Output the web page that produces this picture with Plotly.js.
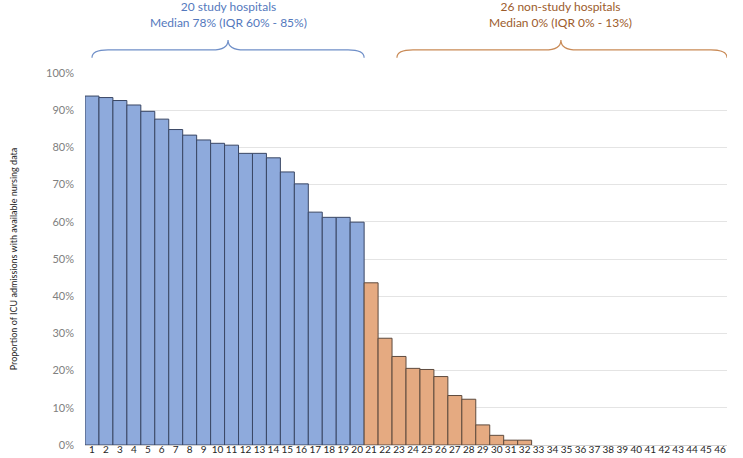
<!DOCTYPE html>
<html>
<head>
<meta charset="utf-8">
<script src="https://cdn.plot.ly/plotly-3.0.1.min.js"></script>
<style>
  html, body { margin: 0; padding: 0; background: #ffffff; }
  #chart { width: 743px; height: 458px; }
</style>
</head>
<body>
<div id="chart"></div>
<script>
// Hospital ranks (x categories)
const hospitals = [1,2,3,4,5,6,7,8,9,10,11,12,13,14,15,16,17,18,19,20,21,22,23,24,25,26,27,28,29,30,31,32,33,34,35,36,37,38,39,40,41,42,43,44,45,46];
// Proportion (%) of ICU admissions with available nursing data
const studyValues = [93.8, 93.4, 92.6, 91.4, 89.7, 87.6, 84.8, 83.3, 82.0, 81.1, 80.6, 78.4, 78.4, 77.2, 73.4, 70.2, 62.6, 61.2, 61.2, 59.9];
const nonStudyValues = [43.6, 28.7, 23.8, 20.6, 20.3, 18.4, 13.3, 12.3, 5.4, 2.6, 1.3, 1.3, 0, 0, 0, 0, 0, 0, 0, 0, 0, 0, 0, 0, 0, 0];
const yTicks = [0, 10, 20, 30, 40, 50, 60, 70, 80, 90, 100];
const yTickText = ['0%', '10%', '20%', '30%', '40%', '50%', '60%', '70%', '80%', '90%', '100%'];
const studyLabel = ['20 study hospitals', 'Median 78% (IQR 60% - 85%)'];
const nonStudyLabel = ['26 non-study hospitals', 'Median 0% (IQR 0% - 13%)'];
const yTitle = 'Proportion of ICU admissions with available nursing data';

const FONT = 'Lato, "Open Sans", sans-serif';
const blueText = '#5479bd';
const brownText = '#9c5c2c';

const studyX = hospitals.slice(0, studyValues.length);
const nonStudyX = hospitals.slice(studyValues.length);
const outline = vals => vals.map(v => (v > 0 ? 1 : 0));

const traces = [
  {
    type: 'bar', x: studyX, y: studyValues, name: 'Study',
    marker: { color: '#8eaadc', line: { color: '#3a4764', width: outline(studyValues) } },
    hoverinfo: 'x+y'
  },
  {
    type: 'bar', x: nonStudyX, y: nonStudyValues, name: 'Non-study',
    marker: { color: '#e5aa81', line: { color: '#5e4b3e', width: outline(nonStudyValues) } },
    hoverinfo: 'x+y'
  }
];

function brace(x0, xm, x1, color) {
  // x in data units, y in paper units
  const yb = 1.041, yl = 1.062, yt = 1.089, dx = 1.15;
  const p = `M ${x0},${yb} Q ${x0},${yl} ${x0+dx},${yl} L ${xm-dx},${yl} Q ${xm},${yl} ${xm},${yt} ` +
            `Q ${xm},${yl} ${xm+dx},${yl} L ${x1-dx},${yl} Q ${x1},${yl} ${x1},${yb}`;
  return { type: 'path', xref: 'x', yref: 'paper', path: p, line: { color: color, width: 1.2 } };
}

const layout = {
  width: 743, height: 458,
  margin: { l: 85, r: 16, t: 73, b: 13 },
  paper_bgcolor: '#ffffff', plot_bgcolor: '#ffffff',
  showlegend: false,
  barmode: 'overlay', bargap: 0,
  font: { family: FONT, size: 11, color: '#595959' },
  xaxis: {
    type: 'linear', range: [0.5, 46.5],
    tickmode: 'array', tickvals: hospitals, ticktext: hospitals.map(String),
    tickangle: 0,
    tickfont: { family: FONT, size: 10, color: '#262626' },
    ticklabelstandoff: -3,
    ticks: '', showgrid: false, zeroline: false,
    showline: false, fixedrange: true, automargin: false
  },
  yaxis: {
    range: [0, 100], tickmode: 'array', tickvals: yTicks, ticktext: yTickText,
    ticks: '', showgrid: true, gridcolor: '#e4e4e4', gridwidth: 1,
    zeroline: true, zerolinecolor: '#d0d0d0', zerolinewidth: 1,
    showline: false,
    tickfont: { family: FONT, size: 11, color: '#808080' },
    ticklabelstandoff: 10,
    title: { text: yTitle, font: { family: FONT, size: 9, color: '#262626' }, standoff: 26 },
    automargin: false, fixedrange: true
  },
  annotations: [
    {
      xref: 'x', yref: 'paper', x: 10.75, y: 1.157, yanchor: 'middle', showarrow: false,
      text: studyLabel.join('<br>'), font: { family: FONT, size: 12, color: blueText }, align: 'center'
    },
    {
      xref: 'x', yref: 'paper', x: 34.6, y: 1.157, yanchor: 'middle', showarrow: false,
      text: nonStudyLabel.join('<br>'), font: { family: FONT, size: 12, color: brownText }, align: 'center'
    }
  ],
  shapes: [
    brace(1, 10.75, 20.5, '#6f8fc8'),
    brace(22.85, 34.6, 46.5, '#c98a56')
  ]
};

Plotly.newPlot('chart', traces, layout, { staticPlot: true, displayModeBar: false });
</script>
</body>
</html>
